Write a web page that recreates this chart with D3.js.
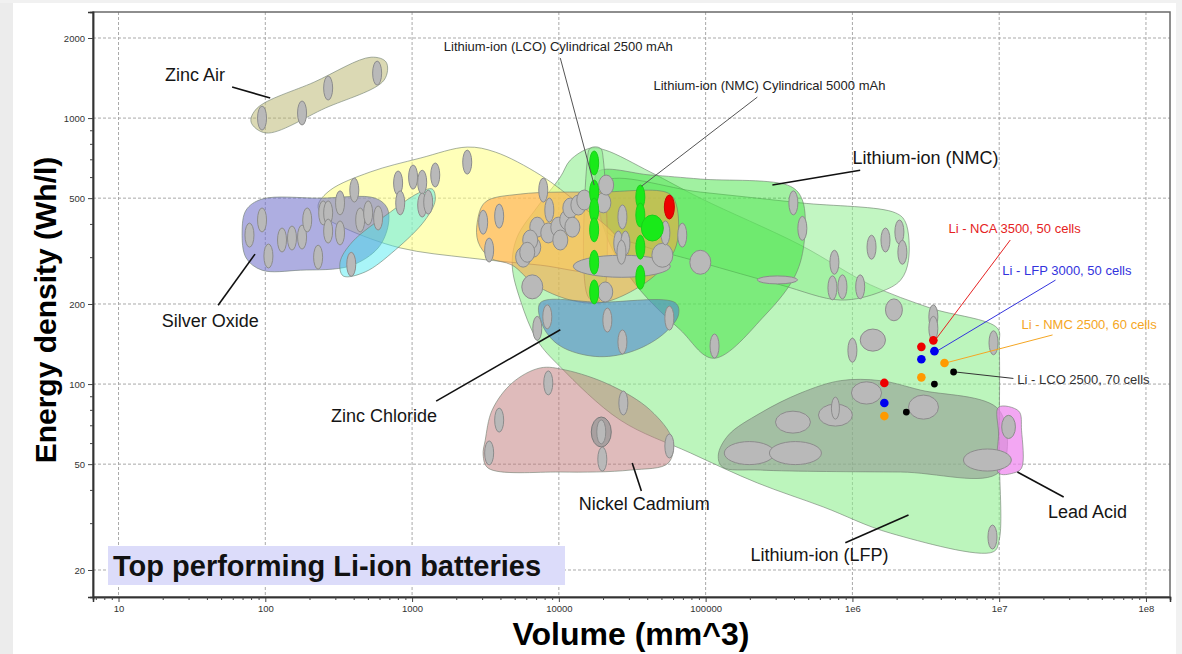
<!DOCTYPE html>
<html><head><meta charset="utf-8">
<script src="https://cdn.jsdelivr.net/npm/d3@7"></script>
<style>
html,body{margin:0;padding:0;background:#fff;}
svg{display:block;font-family:"Liberation Sans",Arial,sans-serif;}
</style></head><body>
<svg id="chart" width="1182" height="654"></svg>
<script>
// ---------------- DATA (volume mm^3, energy density Wh/l) ----------------
const xTicks = [10, 100, 1000, 10000, 100000, 1e6, 1e7, 1e8];
const xTickLabels = ["10", "100", "1000", "10000", "100000", "1e6", "1e7", "1e8"];
const yTicks = [20, 50, 100, 200, 500, 1000, 2000];
const yTickLabels = ["20", "50", "100", "200", "500", "1000", "2000"];

const lfpRegion = [[10230,600],[11970,695],[16370,771],[20700,758],[42000,627],[92000,500],[443000,333],[1.33e6,236],[3.41e6,193],[9.75e6,162],[1.0e7,140],[1.0e7,56.5],[1.0e7,25.9],[9.1e6,23.4],[1.82e6,27.5],[635000,34.5],[225000,42.5],[78700,55.1],[26200,73.2],[10230,116],[7130,146],[5460,207],[4810,280],[5200,357],[7130,463]];
const nmcBandRegion = [[20100,574],[92000,527],[443000,480],[1.97e6,440],[2.3e6,406],[2.41e6,292],[2.13e6,246],[1.55e6,222],[830000,207],[324000,236],[92000,287],[35900,333],[20700,380]];
const nmcRegion = [[18300,627],[42000,611],[92000,590],[378000,554],[456000,492],[471000,348],[409000,257],[255000,182],[113000,125],[67100,160],[35900,225],[22400,333],[18600,471]];
const lcoStripRegion = [[15630,695],[16370,771],[19150,771],[20100,695],[20100,216],[17700,203],[15630,216]];
const yellowRegion = [[229,471],[277,536],[518,627],[1135,707],[2375,778],[3690,745],[7470,611],[14000,471],[24250,363],[29700,298],[19150,264],[7470,280],[2450,298],[830,325],[350,385],[244,432]];
const orangeRegion = [[2780,406],[3150,483],[5460,518],[19150,527],[55700,522],[63200,471],[63200,333],[49200,268],[30700,222],[19150,202],[11970,207],[6900,236],[4810,280],[3400,298],[2820,342]];
const zincAirRegion = [[80,966],[88,1090],[215,1365],[526,1694],[666,1622],[645,1390],[256,1090],[101,879]];
const silverOxideRegion = [[69.5,373],[74,451],[95,496],[237,500],[561,500],[677,459],[688,396],[587,325],[378,278],[173,268],[95,268],[74,298]];
const cyanRegion = [[339,255],[323,287],[391,342],[710,443],[1101,522],[1372,541],[1438,492],[1228,414],[767,319],[479,264]];
const zincChlorideRegion = [[7470,202],[19150,203],[62300,202],[65300,182],[50700,153],[30700,132],[17700,127],[10230,139],[7830,164]];
const nickelCadmiumRegion = [[3150,61.5],[3510,79.8],[4810,101],[7470,115],[11070,113],[22400,99.1],[42000,79.8],[59400,61.5],[55700,50.5],[30700,47.5],[10230,46.7],[3300,48.3],[3050,54.1]];
const packRegion = [[122000,54.1],[143000,64.3],[236000,77.8],[443000,92.5],[830000,103],[1.55e6,103],[2.91e6,94.9],[1.0e7,79.8],[1.0e7,46.7],[2.13e6,46.7],[236000,47.5],[130000,48.8]];
const leadAcidRegion = [[9.9e6,81.9],[1.36e7,79.1],[1.42e7,67.1],[1.42e7,48.3],[1.25e7,46.3],[9.9e6,46.3],[9.9e6,65]];

// single cells (volume, energy)
const cellMarkers = [
  [95,1000],[178,1045],[268,1297],[578,1476],
  [78,363],[95,414],[105,303],[130,348],[152,354],[178,357],[193,414],[229,300],[248,440],[268,440],[268,376],[323,480],[323,370],[404,536],[443,414],[502,440],[587,421],[385,282],
  [803,570],[830,480],[1016,600],[1172,574],[1172,471],[1288,483],[1438,611],[2375,683],[3050,406],[3920,428],[3350,319],[7830,536],[8610,451],
  [27100,425],[25400,339],[28400,339],[26700,313],[53200,370],[69300,363],
  [8340,179],[21400,174],[27100,144],[56600,177],[7130,162],
  [8470,101],[3920,73.2],[3350,55.1],[27500,84.9],[56600,58.5],[19450,66.1],[19770,52.2],
  [115000,139],[1.0e6,134],[3.56e6,179],[3.56e6,162],[9.15e6,143],[9.0e6,26.6],[396000,480],[456000,385],[1.35e6,327],[1.68e6,348],[2.09e6,373],[2.19e6,313],[754000,287],[731000,230],[855000,232],[1.13e6,232]
];
const roundMarkers = [[5710,300],[6690,327],[7130,389],[8470,370],[9910,389],[11400,414],[11970,459],[13580,471],[14900,492],[12360,389],[10230,348],[6380,348],[6090,313],[20100,480],[21000,560],[20700,222]];
const bigRoundMarkers = [[6590,232],[92000,287],[50700,305]];
// packs: [volumeMin, volumeMax, energyMin, energyMax]
const packMarkers = [
  [12540,57500,252,305],[225000,423000,238,255],[1.13e6,1.68e6,133,161],[1.68e6,2.19e6,173,209],
  [134000,294000,49.8,60.8],[272000,615000,49.8,60.8],[5.71e6,1.21e7,47.1,57.0],[299000,518000,65.4,79.1],
  [587000,1.0e6,69.5,84.1],[985000,1.58e6,84.1,102],[2.41e6,3.86e6,73.8,90.9],[1.04e7,1.29e7,62.4,76.3]
];
const ringMarkers = [[16630,22750,58.0,75.2]];
const packInnerCells = [[766000,81.2]];
const greenCells = [[17400,678],[17400,527],[17400,451],[17400,380],[17400,287],[17400,222],[35900,505],[35900,432],[35900,327],[35900,252]];
const greenPacks = [[36500,51500,345,432]];
const redCells = [[56600,463]];

const ncaCells = [[3.56e6,146],[2.95e6,138],[1.65e6,101]];
const lfpCells = [[3.62e6,133],[2.95e6,124],[1.65e6,84.9]];
const nmcCells = [[4.24e6,120],[2.95e6,106],[1.65e6,75.8]];
const lcoCells = [[4.89e6,111],[3.62e6,100],[2.33e6,78.5]];

const regionLabels = [
  {text:"Zinc Air", at:[33.2,1452], from:[59.4,1309], to:[108,1189]},
  {text:"Silver Oxide", at:[42.1,172.6], from:[47.7,198], to:[85.1,308]},
  {text:"Zinc Chloride", at:[645,75.8], from:[1459,86.3], to:[10230,160]},
  {text:"Nickel Cadmium", at:[38200,35.4], from:[36500,39.6], to:[31600,50.5]},
  {text:"Lithium-ion (LFP)", at:[597000,22.8], from:[895000,25.3], to:[2.41e6,32.2]},
  {text:"Lead Acid", at:[4.0e7,33.0], from:[2.75e7,37.6], to:[1.33e7,46.7]},
  {text:"Lithium-ion (NMC)", at:[3.15e6,707], from:[1.13e6,637], to:[285000,560]}
];
const cellLabels = [
  {text:"Lithium-ion (LCO) Cylindrical 2500 mAh", at:[9910,1865], from:[10230,1681], to:[17400,560]},
  {text:"Lithium-ion (NMC) Cylindrical 5000 mAh", at:[272000,1330], from:[225000,1199], to:[36500,554]}
];
const packLabels = [
  {text:"Li - NCA 3500, 50 cells", at:[4.51e6,383], from:[1.19e7,348], to:[3.62e6,145]},
  {text:"Li - LFP 3000, 50 cells", at:[1.05e7,268], from:[2.42e7,246], to:[3.68e6,132]},
  {text:"Li - NMC 2500, 60 cells", at:[1.42e7,168], from:[2.31e7,153], to:[4.30e6,120]},
  {text:"Li - LCO 2500, 70 cells", at:[1.33e7,104], from:[1.25e7,105], to:[5.04e6,111]}
];
const titleText = "Top performing Li-ion batteries";

// ---------------- DRAWING ----------------
const W = 1182, H = 654;
const P = {left:93, right:1170, top:12, bottom:597};
const x = d3.scaleLog().domain([6.70, 1.458e8]).range([P.left, P.right]);
const y = d3.scaleLog().domain([15.83, 2505]).range([P.bottom, P.top]);
const svg = d3.select("#chart");

svg.append("rect").attr("width", W).attr("height", H).attr("fill", "#fff");
svg.append("rect").attr("x", 0).attr("y", 0).attr("width", 13).attr("height", H).attr("fill", "#ececec");
svg.append("rect").attr("x", 0).attr("y", 0).attr("width", W).attr("height", 3).attr("fill", "#f1f1f1");
svg.append("rect").attr("x", 1176).attr("y", 0).attr("width", 6).attr("height", H).attr("fill", "#f1f1f1");

svg.append("defs").append("clipPath").attr("id", "plotclip")
  .append("rect").attr("x", P.left).attr("y", P.top).attr("width", P.right - P.left).attr("height", P.bottom - P.top);

// grid
const grid = svg.append("g").attr("stroke", "#a9a9a9").attr("stroke-dasharray", "3,2").attr("stroke-width", 1);
xTicks.forEach(v => grid.append("line").attr("x1", x(v)).attr("x2", x(v)).attr("y1", P.top).attr("y2", P.bottom));
yTicks.forEach(v => grid.append("line").attr("y1", y(v)).attr("y2", y(v)).attr("x1", P.left).attr("x2", P.right));

const plot = svg.append("g").attr("clip-path", "url(#plotclip)");
const blob = d3.line().x(d => x(d[0])).y(d => y(d[1])).curve(d3.curveCatmullRomClosed.alpha(0.5));

const regions = [
  {data: lfpRegion, fill: "#90ee90", op: 0.6},
  {data: nmcBandRegion, fill: "#90ee90", op: 0.55},
  {data: nmcRegion, fill: "#2ee02e", op: 0.45},
  {data: lcoStripRegion, fill: "#90ee90", op: 0.6},
  {data: yellowRegion, fill: "#ffff80", op: 0.55},
  {data: orangeRegion, fill: "#ffa040", op: 0.55},
  {data: zincAirRegion, fill: "#b8b46a", op: 0.5},
  {data: silverOxideRegion, fill: "#6c6cc8", op: 0.55},
  {data: cyanRegion, fill: "#40e8f0", op: 0.45},
  {data: zincChlorideRegion, fill: "#4f86d0", op: 0.6},
  {data: nickelCadmiumRegion, fill: "#c07878", op: 0.5},
  {data: packRegion, fill: "#8a8a8a", op: 0.5},
  {data: leadAcidRegion, fill: "#ee82ee", op: 0.7}
];
regions.forEach(r => {
  plot.append("path").attr("d", blob(r.data))
    .attr("fill", r.fill).attr("fill-opacity", r.op)
    .attr("stroke", "#6e7d6e").attr("stroke-opacity", 0.6).attr("stroke-width", 1);
});

const mk = plot.append("g");
function ranged(list, fill, stroke, op) {
  mk.selectAll(null).data(list).join("ellipse")
    .attr("cx", d => (x(d[0]) + x(d[1])) / 2)
    .attr("cy", d => (y(d[2]) + y(d[3])) / 2)
    .attr("rx", d => (x(d[1]) - x(d[0])) / 2)
    .attr("ry", d => (y(d[2]) - y(d[3])) / 2)
    .attr("fill", fill).attr("fill-opacity", op).attr("stroke", stroke).attr("stroke-width", 1);
}
function points(list, rx, ry, fill, stroke) {
  mk.selectAll(null).data(list).join("ellipse")
    .attr("cx", d => x(d[0])).attr("cy", d => y(d[1]))
    .attr("rx", rx).attr("ry", ry)
    .attr("fill", fill).attr("stroke", stroke).attr("stroke-width", 1);
}
ranged(packMarkers, "#b9b9b9", "#8c8c8c", 1);
ranged(ringMarkers, "#9a9a9a", "#7a7a7a", 0.8);
points(bigRoundMarkers, 10.5, 12, "#b9b9b9", "#8c8c8c");
points(roundMarkers, 7.5, 10, "#b9b9b9", "#8c8c8c");
points(cellMarkers, 4.5, 12, "#b9b9b9", "#8c8c8c");
points(packInnerCells, 4, 11, "#b9b9b9", "#8c8c8c");
points(greenCells, 4.5, 12, "#19ea19", "#19d019");
ranged(greenPacks, "#19ea19", "#19d019", 1);
points(redCells, 5, 12, "#ee0000", "#cc0000");

// annotation lines
const ann = svg.append("g");
regionLabels.forEach(l => {
  ann.append("line").attr("x1", x(l.from[0])).attr("y1", y(l.from[1])).attr("x2", x(l.to[0])).attr("y2", y(l.to[1]))
    .attr("stroke", "#111").attr("stroke-width", 1.6);
  ann.append("text").attr("x", x(l.at[0])).attr("y", y(l.at[1])).attr("text-anchor", "middle")
    .attr("dominant-baseline", "central").attr("font-size", 18).attr("fill", "#151515").text(l.text);
});
cellLabels.forEach(l => {
  ann.append("line").attr("x1", x(l.from[0])).attr("y1", y(l.from[1])).attr("x2", x(l.to[0])).attr("y2", y(l.to[1]))
    .attr("stroke", "#555").attr("stroke-width", 1);
  ann.append("text").attr("x", x(l.at[0])).attr("y", y(l.at[1])).attr("text-anchor", "middle")
    .attr("dominant-baseline", "central").attr("font-size", 13).attr("fill", "#222").text(l.text);
});
const packColors = ["#e52222", "#3333dd", "#f5a623", "#333333"];
packLabels.forEach((l, i) => {
  ann.append("line").attr("x1", x(l.from[0])).attr("y1", y(l.from[1])).attr("x2", x(l.to[0])).attr("y2", y(l.to[1]))
    .attr("stroke", packColors[i]).attr("stroke-width", 1);
  ann.append("text").attr("x", x(l.at[0])).attr("y", y(l.at[1])).attr("text-anchor", "start")
    .attr("dominant-baseline", "central").attr("font-size", 13).attr("fill", packColors[i]).text(l.text);
});

// battery pack dots
const dots = svg.append("g");
[[ncaCells, "#ee0000", 4.3], [lfpCells, "#0000ee", 4.3], [nmcCells, "#ff9a00", 4.3], [lcoCells, "#000", 3.4]].forEach(([list, c, r]) => {
  dots.selectAll(null).data(list).join("circle")
    .attr("cx", d => x(d[0])).attr("cy", d => y(d[1])).attr("r", r).attr("fill", c);
});

// frame
svg.append("rect").attr("x", P.left).attr("y", P.top).attr("width", P.right - P.left).attr("height", P.bottom - P.top)
  .attr("fill", "none").attr("stroke", "#6a6a6a").attr("stroke-width", 1.5);

// axes
const majX = new Set(xTicks);
const minorX = x.ticks().filter(v => !majX.has(v));
const xAxis = svg.append("g").attr("transform", `translate(0,${P.bottom})`)
  .call(d3.axisBottom(x).tickValues(xTicks).tickSize(5).tickFormat((d, i) => xTickLabels[i]));
svg.append("g").attr("transform", `translate(0,${P.bottom})`)
  .call(d3.axisBottom(x).tickValues(minorX).tickSize(3).tickFormat(""));
const majY = new Set(yTicks);
const minorY = y.ticks().filter(v => !majY.has(v));
svg.append("g").attr("transform", `translate(${P.left},0)`)
  .call(d3.axisLeft(y).tickValues(yTicks).tickSize(5).tickFormat((d, i) => yTickLabels[i]));
svg.append("g").attr("transform", `translate(${P.left},0)`)
  .call(d3.axisLeft(y).tickValues(minorY).tickSize(3).tickFormat(""));
svg.selectAll(".domain").attr("stroke", "#333").attr("stroke-width", 1.5);
svg.selectAll(".tick line").attr("stroke", "#444");
svg.selectAll(".tick text").attr("font-size", 9.5).attr("fill", "#333").attr("font-family", "Liberation Sans, Arial, sans-serif");

// axis titles
svg.append("text").attr("transform", "translate(56,310) rotate(-90)").attr("text-anchor", "middle")
  .attr("font-size", 30).attr("font-weight", "bold").attr("fill", "#000").text("Energy density (Wh/l)");
svg.append("text").attr("x", 631).attr("y", 645).attr("text-anchor", "middle")
  .attr("font-size", 32).attr("font-weight", "bold").attr("fill", "#000").text("Volume (mm^3)");

// title box
svg.append("rect").attr("x", 108).attr("y", 546).attr("width", 457).attr("height", 39).attr("fill", "#dcdcfa");
svg.append("text").attr("x", 113).attr("y", 576).attr("font-size", 29).attr("font-weight", "bold")
  .attr("fill", "#111").text(titleText);
</script>
</body></html>
